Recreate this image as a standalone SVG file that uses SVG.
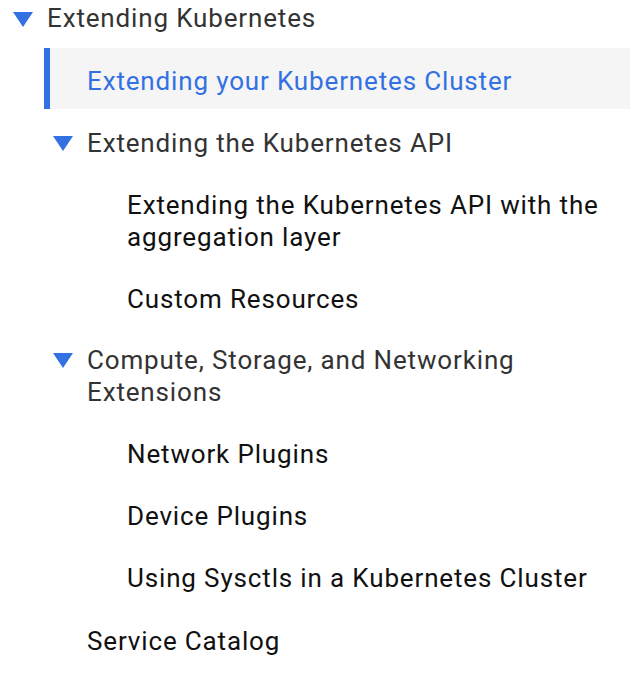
<svg xmlns="http://www.w3.org/2000/svg" width="644" height="676" viewBox="0 0 644 676">
<style>
text{font-family:Roboto,"Noto Sans",sans-serif;font-size:26px;letter-spacing:0.85px}
.h{fill:#333}
.l{fill:#111}
.a{fill:#3371e3}
.tri{fill:#3371e3}
</style>
<rect width="644" height="676" fill="#fff"/>
<g id="extending-kubernetes">
<polygon class="tri" points="13,12 33,12 23,27"/>
<text class="h" x="47" y="27">Extending Kubernetes</text>
</g>
<g id="extending-cluster">
<rect x="44" y="48" width="586" height="61" fill="#f5f5f5"/>
<rect x="44" y="48" width="6" height="61" fill="#3371e3"/>
<text class="a" x="87" y="90">Extending your Kubernetes Cluster</text>
</g>
<g id="extending-api">
<polygon class="tri" points="53,136 73,136 63,151"/>
<text class="h" x="87" y="152">Extending the Kubernetes API</text>
</g>
<g id="aggregation-layer">
<text class="l" x="127" y="214">Extending the Kubernetes API with the</text>
<text class="l" x="127" y="246">aggregation layer</text>
</g>
<g id="custom-resources">
<text class="l" x="127" y="308">Custom Resources</text>
</g>
<g id="compute-storage">
<polygon class="tri" points="53,353 73,353 63,368"/>
<text class="h" x="87" y="369">Compute, Storage, and Networking</text>
<text class="h" x="87" y="401">Extensions</text>
</g>
<g id="network-plugins">
<text class="l" x="127" y="463">Network Plugins</text>
</g>
<g id="device-plugins">
<text class="l" x="127" y="525">Device Plugins</text>
</g>
<g id="sysctls">
<text class="l" x="127" y="587">Using Sysctls in a Kubernetes Cluster</text>
</g>
<g id="service-catalog">
<text class="l" x="87" y="650">Service Catalog</text>
</g>
<g id="connectors"></g>
</svg>
